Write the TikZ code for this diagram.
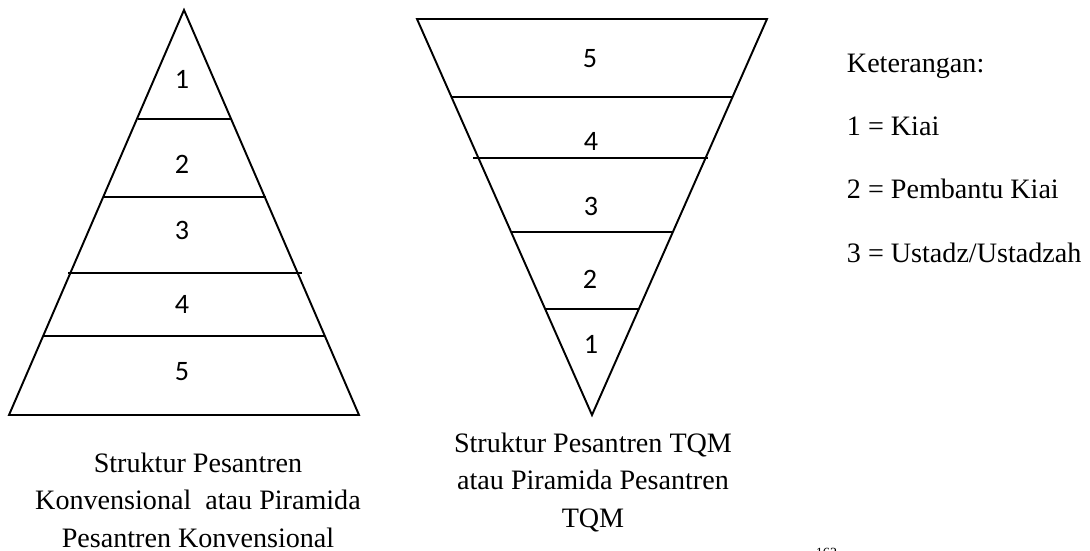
\documentclass[tikz,border=0pt]{standalone}
\usepackage{fontspec}
\setmainfont{Liberation Serif}
\newfontfamily\numfont{Carlito}
\usetikzlibrary{positioning}

\begin{document}
\begin{tikzpicture}[x=0.02cm,y=-0.02cm,line width=1.1pt,
                    tier/.style={font=\numfont\fontsize{16}{18}\selectfont,
                      anchor=base,inner sep=0pt},
                    caption/.style={font=\fontsize{16}{21.3}\selectfont,
                      align=center,anchor=base,inner sep=0pt},
                    legend/.style={font=\fontsize{16}{19}\selectfont,
                      anchor=base west,inner sep=0pt}]
  \useasboundingbox (0,0) rectangle (1090,551);

  % conventional pyramid
  \coordinate (ltop) at (184,10);
  \coordinate (lbl) at (9,415);
  \coordinate (lbr) at (359,415);
  \draw (ltop) -- (lbr) -- (lbl) -- cycle;
  \draw (138,119) -- (231,119);
  \draw (103,197) -- (266,197);
  \draw (68,273) -- (302,273);
  \draw (43,336) -- (325,336);
  \node[tier] (l1) at (182,89) {1};
  \node[tier] (l2) at (182,173) {2};
  \node[tier] (l3) at (182,239) {3};
  \node[tier] (l4) at (182,313) {4};
  \node[tier] (l5) at (182,380) {5};

  % TQM pyramid (upside down)
  \coordinate (rtl) at (417,19);
  \coordinate (rtr) at (767,19);
  \coordinate (rbot) at (592,415);
  \draw (rtl) -- (rtr) -- (rbot) -- cycle;
  \draw (452,97) -- (732,97);
  \draw (473,158) -- (708,158);
  \draw (511,232) -- (673,232);
  \draw (545,309) -- (638,309);
  \node[tier] (r5) at (590,68) {5};
  \node[tier] (r4) at (591,150) {4};
  \node[tier] (r3) at (591,215) {3};
  \node[tier] (r2) at (590,288) {2};
  \node[tier] (r1) at (591,353) {1};

  % captions (base = last line)
  \node[caption] (capl) at (198,547)
    {Struktur Pesantren\\Konvensional\ \ atau Piramida\\Pesantren Konvensional};
  \node[caption] (capr) at (593,527)
    {Struktur Pesantren TQM\\atau Piramida Pesantren\\TQM};

  % legend
  \node[legend] (ket) at (846,72) {Keterangan:};
  \node[legend] (k1) at (846,135) {1 = Kiai};
  \node[legend] (k2) at (846,198) {2 = Pembantu Kiai};
  \node[legend] (k3) at (846,262) {3 = Ustadz/Ustadzah};

  \node[anchor=north west,inner sep=0pt,font=\footnotesize] (fn) at (815,547) {162};
\end{tikzpicture}
\end{document}
